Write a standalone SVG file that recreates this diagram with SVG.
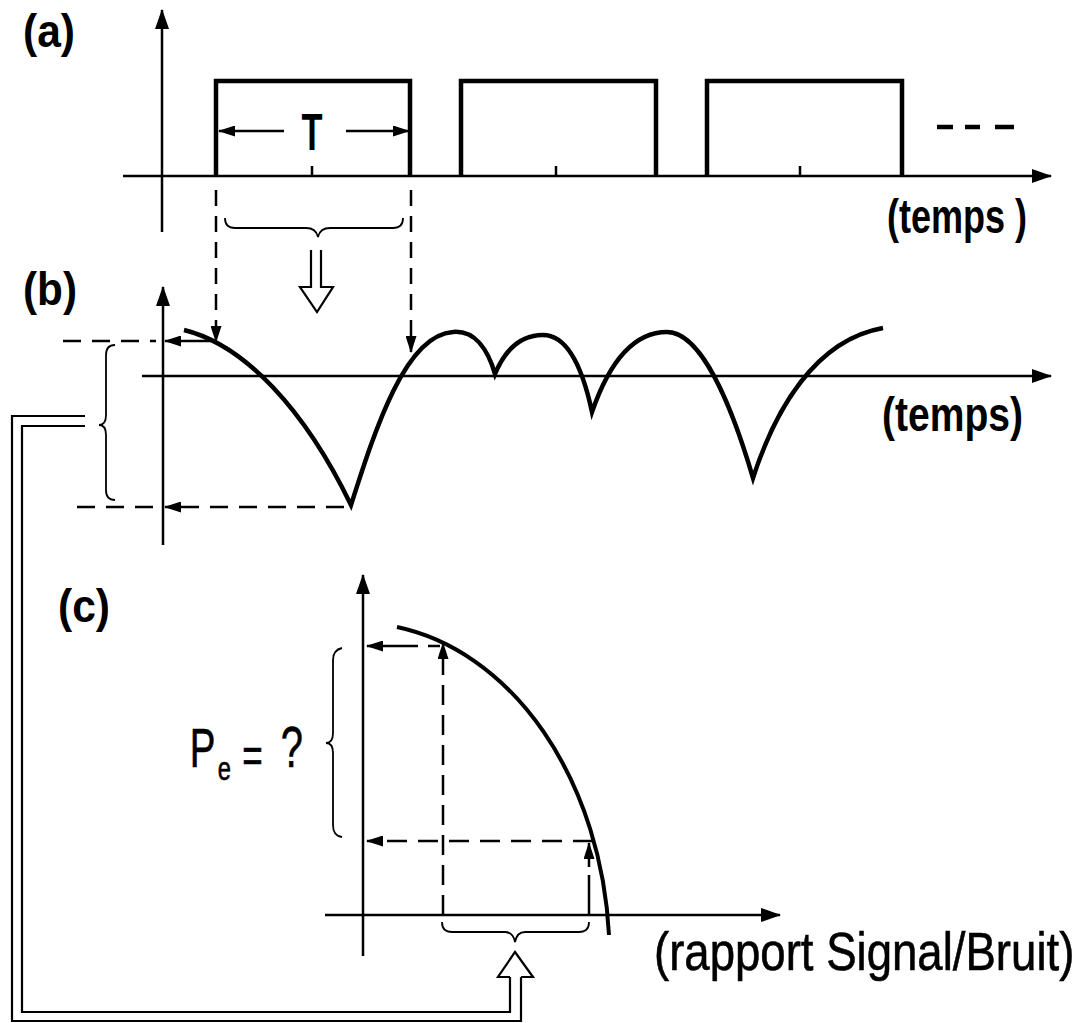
<svg xmlns="http://www.w3.org/2000/svg" width="1089" height="1023" viewBox="0 0 1089 1023">
<style>
.ax{fill:none;stroke:#000;stroke-width:2.5}
.thick{fill:none;stroke:#000;stroke-width:4.5;stroke-linejoin:miter}
.dash{fill:none;stroke:#000;stroke-width:2.5;stroke-dasharray:18 11}
.thin{fill:none;stroke:#000;stroke-width:1.8}
.dbl{fill:none;stroke:#000;stroke-width:2.2}
.lbl{font-family:"Liberation Sans",Arial,sans-serif;font-weight:bold;fill:#000}
.reg{font-family:"Liberation Sans",Arial,sans-serif;fill:#000;stroke:#000;stroke-width:0.6}
</style>
<defs>
<marker id="axh" markerWidth="20" markerHeight="14" refX="19" refY="7" orient="auto" markerUnits="userSpaceOnUse"><path d="M0,0 L20,7 L0,14 z" fill="#000"/></marker>
<marker id="arh" markerWidth="17" markerHeight="11" refX="16" refY="5.5" orient="auto" markerUnits="userSpaceOnUse"><path d="M0,0 L17,5.5 L0,11 z" fill="#000"/></marker>
</defs>
<rect width="1089" height="1023" fill="#fff"/>

<g id="panel-a">
<text class="lbl" x="23" y="47" font-size="47" textLength="52" lengthAdjust="spacingAndGlyphs">(a)</text>
<path class="ax" d="M162,232 V10" marker-end="url(#axh)"/>
<path class="ax" d="M123,176 H1051" marker-end="url(#axh)"/>
<path class="thick" d="M216,176 V81 H410 V176"/>
<path class="thick" d="M461,176 V81 H656 V176"/>
<path class="thick" d="M707,176 V81 H902 V176"/>
<path class="ax" d="M312,176 V166 M556,176 V166 M800,176 V166"/>
<text class="lbl" x="312" y="150" font-size="52" text-anchor="middle" textLength="21" lengthAdjust="spacingAndGlyphs">T</text>
<path class="ax" d="M284,131 H219" marker-end="url(#arh)"/>
<path class="ax" d="M346,131 H409" marker-end="url(#arh)"/>
<path d="M937,127 H953 M965,127 H980 M995,127 H1014" stroke="#000" stroke-width="4.5" fill="none"/>
<text class="lbl" x="887" y="233" font-size="48" textLength="140" lengthAdjust="spacingAndGlyphs">(temps )</text>
<path class="thin" d="M225,218 Q225,228 235,228 L306,228 Q316,228 318,237 Q320,228 330,228 L393,228 Q403,228 403,218"/>
<path class="dbl" d="M311,250 V287 H300 L317,312 L333,287 H321 V250"/>
</g>

<g id="panel-b">
<text class="lbl" x="23" y="305" font-size="47" textLength="54" lengthAdjust="spacingAndGlyphs">(b)</text>
<path class="ax" d="M163,545 V287" marker-end="url(#axh)"/>
<path class="ax" d="M142,376 H1051" marker-end="url(#axh)"/>
<path class="thick" d="M184,330 C245,345 305,410 351,505 C375,430 405,335 453,332 C475,330 488,350 495,374 C505,350 520,335 543,335 C568,335 583,370 592,412 C610,360 635,332 667,332 C700,332 730,400 753,478 C775,410 815,340 883,328"/>
<text class="lbl" x="882" y="431" font-size="49" textLength="141" lengthAdjust="spacingAndGlyphs">(temps)</text>
<path class="thin" d="M115,345 Q106,345 106,355 L106,415 Q106,425 99,425 Q106,425 106,435 L106,490 Q106,500 115,500"/>
</g>

<g id="panel-c">
<text class="lbl" x="58" y="622" font-size="47" textLength="52" lengthAdjust="spacingAndGlyphs">(c)</text>
<path class="ax" d="M363,956 V575" marker-end="url(#axh)"/>
<path class="ax" d="M325,915 H780" marker-end="url(#axh)"/>
<path class="thick" d="M397,627 A252,335 0 0 1 609,935" style="stroke-width:4"/>
<path class="thin" d="M342,648 Q333,650 333,660 L333,733 Q333,743 326,743 Q333,743 333,753 L333,825 Q333,836 342,837"/>
<path class="thin" d="M442,922 Q442,932 452,932 L505,932 Q513,932 515,942 Q517,932 525,932 L579,932 Q589,932 589,922"/>
<text class="reg" transform="scale(0.7 1)" font-size="55"><tspan x="271" y="767">P</tspan><tspan x="311" y="780" font-size="34">e</tspan><tspan x="346" y="772" font-size="50">=</tspan><tspan x="401" y="767" font-size="57">?</tspan></text>
<text class="reg" transform="translate(654 970) scale(0.86 1)" x="0" y="0" font-size="53">(rapport Signal/Bruit)</text>
</g>

<g id="connectors">
<path class="dash" d="M216,190 V342" style="stroke-dasharray:16 10" marker-end="url(#arh)"/>
<path class="dash" d="M411,190 V352" style="stroke-dasharray:16 10" marker-end="url(#arh)"/>
<path class="dash" d="M63,341 H156"/>
<path class="ax" d="M212,341 H165" marker-end="url(#arh)"/>
<path class="dash" d="M77,507 H156"/>
<path class="dash" d="M344,507 H165" marker-end="url(#arh)"/>
<path class="dash" d="M440,646 H367" style="stroke-dasharray:12 10 60" marker-end="url(#arh)"/>
<path class="dash" d="M443,915 V643" style="stroke-dasharray:20 10" marker-end="url(#arh)"/>
<path class="dash" d="M593,841 H367" style="stroke-dasharray:20 11" marker-end="url(#arh)"/>
<path class="dash" d="M589,915 V843" style="stroke-dasharray:40 8" marker-end="url(#arh)"/>
<path class="dbl" d="M85,416 H12 V1021 H521 V977"/>
<path class="dbl" d="M85,426 H22 V1012 H510 V977"/>
<path class="dbl" d="M510,977 H498 L515,952 L533,977 H521"/>
</g>
</svg>
